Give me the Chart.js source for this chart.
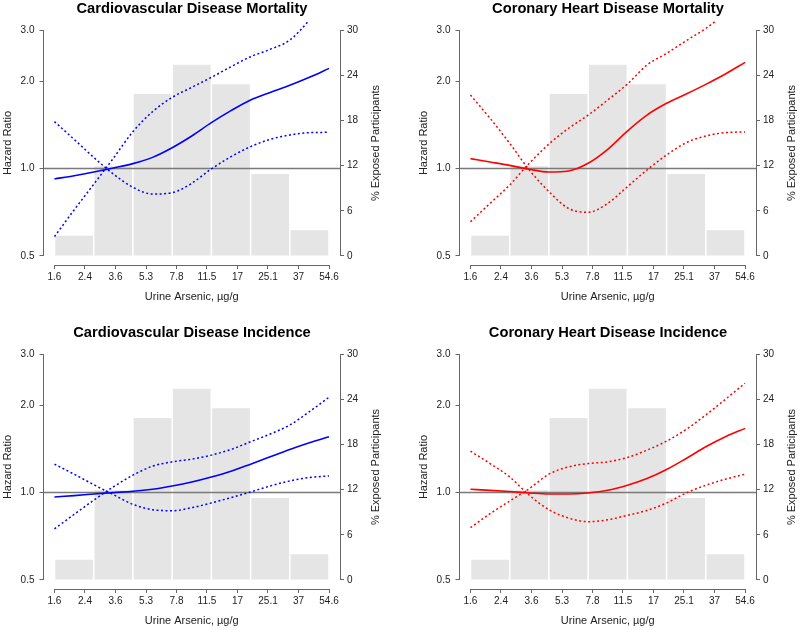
<!DOCTYPE html>
<html>
<head>
<meta charset="utf-8">
<script src="https://cdn.jsdelivr.net/npm/chart.js@4/dist/chart.umd.min.js"></script>
<style>
  body { margin: 0; background: #fff; width: 800px; height: 630px; position: relative; overflow: hidden; }
  canvas { position: absolute; }
</style>
</head>
<body>
<canvas id="p0" width="384" height="306" style="left:0;top:0"></canvas>
<canvas id="p1" width="384" height="306" style="left:416px;top:0"></canvas>
<canvas id="p2" width="384" height="306" style="left:0;top:324px"></canvas>
<canvas id="p3" width="384" height="306" style="left:416px;top:324px"></canvas>
<script>
// x axis is ln(urine arsenic); tick labels are the back-transformed values
const tickLabels = ["1.6", "2.4", "3.6", "5.3", "7.8", "11.5", "17", "25.1", "37", "54.6"];
const tickLn = [0.5, 0.889, 1.278, 1.667, 2.056, 2.444, 2.833, 3.222, 3.611, 4.0];
const hrTicks = [0.5, 1, 2, 3];
const pctTicks = [0, 6, 12, 18, 24, 30];

// histogram of participants (same in every panel), bins 0.5 wide in ln units
const binMidLn = [0.75, 1.25, 1.75, 2.25, 2.75, 3.25, 3.75];
const binWidthLn = 0.5;
const exposedPct = [2.7, 11.9, 21.5, 25.4, 22.8, 10.9, 3.4];

// spline curves, read at these ln(arsenic) points
const curveLn = [0.5, 0.75, 1.0, 1.25, 1.5, 1.75, 2.0, 2.25, 2.5, 2.75, 3.0, 3.25, 3.5, 3.75, 4.0];

const cvdMortHR = [0.921, 0.945, 0.973, 1.005, 1.040, 1.093, 1.180, 1.295, 1.439, 1.583, 1.723, 1.830, 1.935, 2.062, 2.214];
const cvdMortHi = [0.583, 0.720, 0.883, 1.085, 1.340, 1.570, 1.759, 1.905, 2.062, 2.243, 2.429, 2.574, 2.772, 3.248, 3.91];
const cvdMortLo = [1.451, 1.261, 1.093, 0.958, 0.862, 0.817, 0.826, 0.890, 0.997, 1.099, 1.190, 1.261, 1.305, 1.330, 1.333];

const chdMortHR = [1.082, 1.054, 1.026, 0.994, 0.973, 0.981, 1.043, 1.165, 1.347, 1.529, 1.678, 1.806, 1.950, 2.117, 2.322];
const chdMortHi = [0.656, 0.759, 0.878, 1.043, 1.215, 1.376, 1.529, 1.723, 1.955, 2.273, 2.494, 2.757, 3.04, 3.425, 3.9];
const chdMortLo = [1.792, 1.490, 1.222, 0.989, 0.833, 0.729, 0.707, 0.759, 0.866, 0.989, 1.114, 1.228, 1.295, 1.330, 1.337];

const cvdIncHR = [0.966, 0.976, 0.989, 1.000, 1.010, 1.027, 1.054, 1.088, 1.132, 1.185, 1.253, 1.328, 1.408, 1.485, 1.557];
const cvdIncHi = [0.750, 0.841, 0.941, 1.046, 1.148, 1.233, 1.276, 1.304, 1.346, 1.408, 1.497, 1.591, 1.709, 1.900, 2.130];
const cvdIncLo = [1.253, 1.157, 1.065, 0.984, 0.911, 0.873, 0.866, 0.887, 0.921, 0.961, 1.005, 1.054, 1.097, 1.127, 1.141];

const chdIncHR = [1.027, 1.018, 1.008, 0.997, 0.989, 0.989, 0.997, 1.018, 1.060, 1.118, 1.201, 1.311, 1.438, 1.557, 1.664];
const chdIncHi = [0.757, 0.846, 0.935, 1.032, 1.157, 1.226, 1.259, 1.276, 1.321, 1.400, 1.504, 1.651, 1.850, 2.096, 2.381];
const chdIncLo = [1.389, 1.259, 1.132, 0.979, 0.873, 0.817, 0.794, 0.806, 0.835, 0.868, 0.921, 0.997, 1.060, 1.112, 1.157];

const refHR = 1;

// R style plot region: 4% extra on each side of the data range
const xMin = 0.36, xMax = 4.14;
const hrMin = 0.4654, hrMax = 3.223;
const pctMin = -1.2, pctMax = 31.2;

const FONT = "'Liberation Sans', Arial, Helvetica, sans-serif";
Chart.defaults.font.family = FONT;
Chart.defaults.color = "#222";

const axisGray = "#666";

// axis lines only between first and last tick, like base R graphics
const rAxes = {
  id: "rAxes",
  afterDraw(chart) {
    const { ctx, chartArea: a, scales } = chart;
    const x = scales.x, y = scales.y, y2 = scales.y2;
    ctx.save();
    ctx.strokeStyle = axisGray;
    ctx.lineWidth = 1;
    ctx.beginPath();
    ctx.moveTo(x.getPixelForValue(tickLn[0]), Math.round(a.bottom) + 0.5);
    ctx.lineTo(x.getPixelForValue(tickLn[tickLn.length - 1]), Math.round(a.bottom) + 0.5);
    ctx.moveTo(Math.floor(a.left) + 0.5, y.getPixelForValue(hrTicks[0]));
    ctx.lineTo(Math.floor(a.left) + 0.5, y.getPixelForValue(hrTicks[hrTicks.length - 1]));
    ctx.moveTo(Math.round(a.right) + 0.5, y2.getPixelForValue(pctTicks[0]));
    ctx.lineTo(Math.round(a.right) + 0.5, y2.getPixelForValue(pctTicks[pctTicks.length - 1]));
    ctx.stroke();

    ctx.fillStyle = "#222";
    ctx.font = "11px " + FONT;
    ctx.textAlign = "center";
    ctx.textBaseline = "middle";
    ctx.translate(a.right + 35.5, (a.top + a.bottom) / 2);
    ctx.rotate(-Math.PI / 2);
    ctx.fillText("% Exposed Participants", 0, 0);
    ctx.restore();
  }
};

function toPoints(xs, ys) {
  return xs.map(function (x, i) { return { x: x, y: ys[i] }; });
}

function makePanel(id, title, color, hr, lo, hi) {
  new Chart(document.getElementById(id), {
    data: {
      datasets: [
        {
          type: "line",
          data: toPoints(curveLn, hr),
          borderColor: color,
          borderWidth: 1.6,
          pointRadius: 0,
          cubicInterpolationMode: "monotone",
          order: 1
        },
        {
          type: "line",
          data: toPoints(curveLn, lo),
          borderColor: color,
          borderWidth: 1.5,
          borderDash: [2, 2.5],
          pointRadius: 0,
          cubicInterpolationMode: "monotone",
          order: 1
        },
        {
          type: "line",
          data: toPoints(curveLn, hi),
          borderColor: color,
          borderWidth: 1.5,
          borderDash: [2, 2.5],
          pointRadius: 0,
          cubicInterpolationMode: "monotone",
          order: 1
        },
        {
          type: "line",
          data: [{ x: xMin, y: refHR }, { x: xMax, y: refHR }],
          borderColor: "#7a7a7a",
          borderWidth: 1.5,
          pointRadius: 0,
          order: 2
        },
        {
          type: "bar",
          data: toPoints(binMidLn, exposedPct),
          xAxisID: "xb",
          yAxisID: "y2",
          backgroundColor: "#e5e5e5",
          grouped: false,
          barPercentage: 1,
          categoryPercentage: 0.96,
          order: 3
        }
      ]
    },
    options: {
      responsive: false,
      animation: false,
      events: [],
      layout: { padding: 0 },
      plugins: {
        legend: { display: false },
        tooltip: { enabled: false },
        title: {
          display: true,
          text: title,
          color: "#000",
          font: { size: 14.7, weight: "bold" },
          padding: { top: 0.5, bottom: 2.9 }
        }
      },
      scales: {
        x: {
          type: "linear",
          position: "bottom",
          min: xMin,
          max: xMax,
          afterBuildTicks: function (s) { s.ticks = tickLn.map(function (v) { return { value: v }; }); },
          afterFit: function (s) { s.height = 41; },
          ticks: {
            autoSkip: false,
            maxRotation: 0,
            padding: 2,
            font: { size: 10 },
            callback: function (v, i) { return tickLabels[i]; }
          },
          grid: { drawOnChartArea: false, tickLength: 4, color: axisGray },
          border: { display: false },
          title: {
            display: true,
            text: "Urine Arsenic, µg/g",
            font: { size: 11 },
            padding: { top: 0, bottom: 2.4 }
          }
        },
        // hidden axis for the histogram; same range as x, ticks one bin apart
        xb: {
          type: "linear",
          display: false,
          offset: false,
          min: xMin,
          max: xMax,
          ticks: { stepSize: binWidthLn, includeBounds: false }
        },
        y: {
          type: "logarithmic",
          position: "left",
          min: hrMin,
          max: hrMax,
          afterBuildTicks: function (s) { s.ticks = hrTicks.map(function (v) { return { value: v }; }); },
          afterFit: function (s) { s.width = 43.5; },
          ticks: {
            padding: 5,
            font: { size: 10 },
            callback: function (v) { return Number(v).toFixed(1); }
          },
          grid: { drawOnChartArea: false, tickLength: 4, color: axisGray },
          border: { display: false },
          title: {
            display: true,
            text: "Hazard Ratio",
            font: { size: 11 },
            padding: { top: 1, bottom: 0 }
          }
        },
        y2: {
          type: "linear",
          position: "right",
          min: pctMin,
          max: pctMax,
          afterBuildTicks: function (s) { s.ticks = pctTicks.map(function (v) { return { value: v }; }); },
          afterFit: function (s) { s.width = 44; },
          ticks: {
            padding: 3,
            font: { size: 10 },
            callback: function (v) { return v; }
          },
          grid: { drawOnChartArea: false, tickLength: 4, color: axisGray },
          border: { display: false }
        }
      }
    },
    plugins: [rAxes]
  });
}

makePanel("p0", "Cardiovascular Disease Mortality", "#0000ff", cvdMortHR, cvdMortLo, cvdMortHi);
makePanel("p1", "Coronary Heart Disease Mortality", "#ff0000", chdMortHR, chdMortLo, chdMortHi);
makePanel("p2", "Cardiovascular Disease Incidence", "#0000ff", cvdIncHR, cvdIncLo, cvdIncHi);
makePanel("p3", "Coronary Heart Disease Incidence", "#ff0000", chdIncHR, chdIncLo, chdIncHi);
</script>
</body>
</html>
